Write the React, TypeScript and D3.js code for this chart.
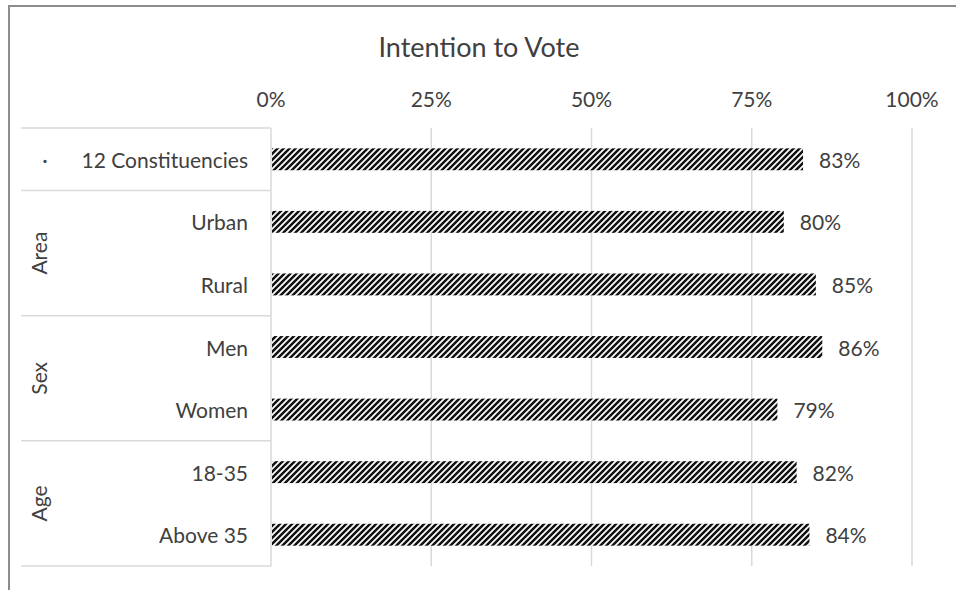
import React from "react";
import * as d3 from "d3";

const categories = ["12 Constituencies", "Urban", "Rural", "Men", "Women", "18-35", "Above 35"];
const values = [83, 80, 85, 86, 79, 82, 84];
const groupLabels = ["·", "Area", "Sex", "Age"];
const groupSizes = [1, 2, 2, 2];
const tickValues = [0, 25, 50, 75, 100];
const title = "Intention to Vote";

const W = 956;
const H = 590;
const plotLeft = 271;
const plotRight = 912;
const plotTop = 128;
const plotBottom = 566;
const tableLeft = 21;
const FONT = "Lato, 'Open Sans', sans-serif";
const TEXT = "#404040";
const GRID = "#d9d9d9";
const FS = 21;

export default function App() {
  const x = d3.scaleLinear().domain([0, 100]).range([plotLeft, plotRight]);
  const y = d3
    .scaleBand<string>()
    .domain(categories)
    .range([plotTop, plotBottom])
    .paddingInner(0.65)
    .paddingOuter(0.325);
  const step = y.step();

  const groups: { label: string; start: number; end: number }[] = [];
  let idx = 0;
  groupSizes.forEach((n, i) => {
    const start = plotTop + idx * step;
    const end = plotTop + (idx + n) * step;
    groups.push({ label: groupLabels[i], start, end });
    idx += n;
  });

  return (
    <svg
      width={W}
      height={H}
      style={{ position: "absolute", left: 0, top: 0, background: "#fff" }}
      fontFamily={FONT}
    >
      <defs>
        <pattern id="hatch" patternUnits="userSpaceOnUse" width={6} height={6}>
          <rect width={6} height={6} fill="#fff" />
          <path d="M-1,1 l2,-2 M0,6 l6,-6 M5,7 l2,-2" stroke="#111" strokeWidth={2.5} />
        </pattern>
      </defs>
      <rect x={0} y={0} width={W} height={H} fill="#fff" />
      <rect x={9} y={6} width={W + 20} height={H + 20} fill="none" stroke="#8c8c8c" strokeWidth={2} />

      <text x={479} y={46} textAnchor="middle" dominantBaseline="central" fontSize={27} fill={TEXT}>
        {title}
      </text>

      {tickValues.map((t) => (
        <g key={t}>
          <line x1={x(t)} x2={x(t)} y1={plotTop} y2={plotBottom} stroke={GRID} strokeWidth={1.5} />
          <text x={x(t)} y={98} textAnchor="middle" dominantBaseline="central" fontSize={FS} fill={TEXT}>
            {t}%
          </text>
        </g>
      ))}

      <line x1={tableLeft} x2={plotLeft} y1={plotTop} y2={plotTop} stroke={GRID} strokeWidth={1.5} />
      {groups.map((g, i) => (
        <line key={i} x1={tableLeft} x2={plotLeft} y1={g.end} y2={g.end} stroke={GRID} strokeWidth={1.5} />
      ))}

      {groups.map((g, i) =>
        i === 0 ? (
          <text key={i} x={45} y={(g.start + g.end) / 2} textAnchor="middle" dominantBaseline="central" fontSize={FS} fill={TEXT}>
            {g.label}
          </text>
        ) : (
          <text
            key={i}
            transform={`translate(38,${(g.start + g.end) / 2}) rotate(-90)`}
            textAnchor="middle"
            dominantBaseline="central"
            fontSize={FS}
            fill={TEXT}
          >
            {g.label}
          </text>
        )
      )}

      {categories.map((c, i) => {
        const yc = (y(c) ?? 0) + y.bandwidth() / 2;
        return (
          <g key={c}>
            <text x={248} y={yc} textAnchor="end" dominantBaseline="central" fontSize={FS} fill={TEXT}>
              {c}
            </text>
            <rect x={x(0) + 1} y={y(c)} width={x(values[i]) - x(0) - 1} height={y.bandwidth()} fill="url(#hatch)" />
            <text x={x(values[i]) + 16} y={yc} dominantBaseline="central" fontSize={FS} fill={TEXT}>
              {values[i]}%
            </text>
          </g>
        );
      })}
    </svg>
  );
}
